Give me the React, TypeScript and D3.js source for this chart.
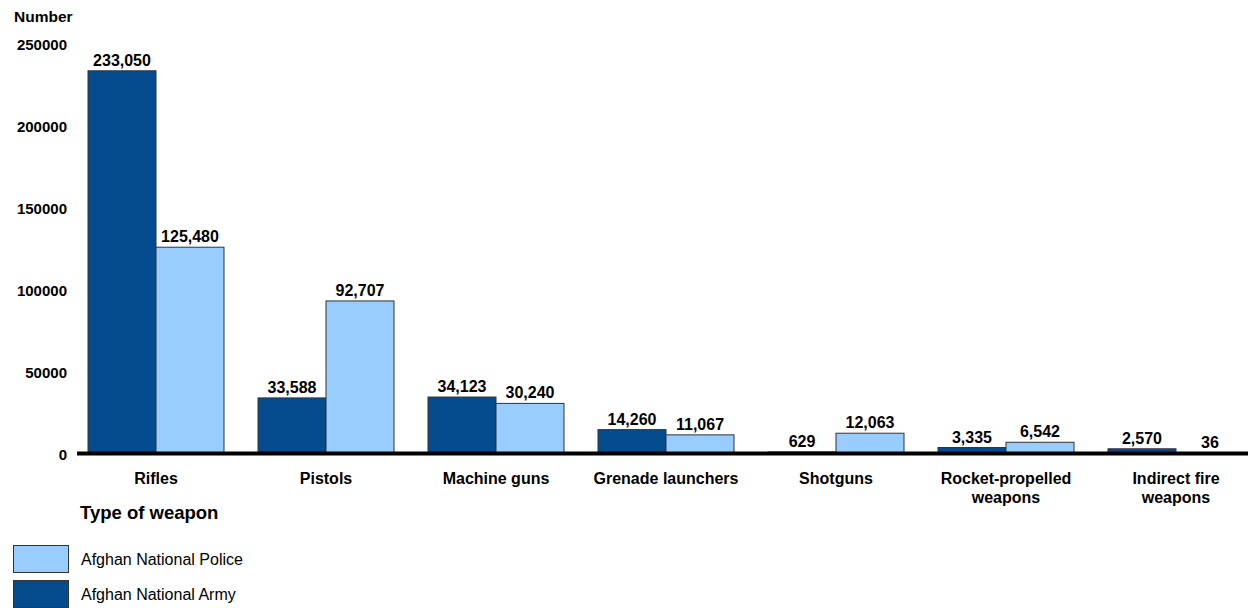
import React from "react";
import * as d3 from "d3";

const categories: string[][] = [
  ["Rifles"],
  ["Pistols"],
  ["Machine guns"],
  ["Grenade launchers"],
  ["Shotguns"],
  ["Rocket-propelled", "weapons"],
  ["Indirect fire", "weapons"],
];
const armyValues = [233050, 33588, 34123, 14260, 629, 3335, 2570];
const policeValues = [125480, 92707, 30240, 11067, 12063, 6542, 36];
const yTicks = [0, 50000, 100000, 150000, 200000, 250000];
const seriesNames = ["Afghan National Police", "Afghan National Army"];

const DARK = "#054C8F";
const LIGHT = "#99CCFF";
const FONT = "'Liberation Sans', Arial, sans-serif";

export default function App() {
  const W = 1248;
  const H = 608;
  const x = d3
    .scaleBand<number>()
    .domain(d3.range(categories.length))
    .range([71, 1261])
    .paddingInner(0.2)
    .paddingOuter(0.1);
  const inner = d3
    .scaleBand<number>()
    .domain([0, 1])
    .range([0, x.bandwidth()]);
  const y = d3.scaleLinear().domain([0, 250000]).range([453, 43]);
  const fmt = d3.format(",");
  const series = [
    { values: armyValues, color: DARK },
    { values: policeValues, color: LIGHT },
  ];

  return (
    <svg
      width={W}
      height={H}
      style={{ position: "absolute", left: 0, top: 0, fontFamily: FONT }}
    >
      <text x={14} y={22} fontSize={15.5} fontWeight="bold">
        Number
      </text>
      {yTicks.map((t) => (
        <text
          key={t}
          x={67}
          y={y(t) + 7}
          textAnchor="end"
          fontSize={15}
          fontWeight="bold"
        >
          {t}
        </text>
      ))}
      {series.map((s, si) =>
        s.values.map((v, i) => {
          const bx = (x(i) as number) + (inner(si) as number);
          const by = y(v);
          return (
            <g key={`${si}-${i}`}>
              <rect
                x={bx}
                y={by}
                width={inner.bandwidth()}
                height={y(0) - by}
                fill={s.color}
                stroke="#333"
                strokeWidth={1}
              />
              <text
                x={bx + inner.bandwidth() / 2}
                y={by - 5}
                textAnchor="middle"
                fontSize={16}
                fontWeight="bold"
              >
                {fmt(v)}
              </text>
            </g>
          );
        })
      )}
      <line x1={77} x2={1248} y1={453.5} y2={453.5} stroke="#000" strokeWidth={4} />
      {categories.map((lines, i) => (
        <text
          key={i}
          x={(x(i) as number) + x.bandwidth() / 2}
          y={484}
          textAnchor="middle"
          fontSize={16}
          fontWeight="bold"
        >
          {lines.map((l, li) => (
            <tspan key={li} x={(x(i) as number) + x.bandwidth() / 2} dy={li === 0 ? 0 : 19}>
              {l}
            </tspan>
          ))}
        </text>
      ))}
      <text x={80} y={519} fontSize={18.5} fontWeight="bold">
        Type of weapon
      </text>
      {seriesNames.map((n, i) => (
        <g key={n}>
          <rect
            x={13.5}
            y={545.5 + i * 35}
            width={55}
            height={27}
            fill={i === 0 ? LIGHT : DARK}
            stroke="#333"
            strokeWidth={1}
          />
          <text x={81} y={565 + i * 35} fontSize={16}>
            {n}
          </text>
        </g>
      ))}
    </svg>
  );
}
